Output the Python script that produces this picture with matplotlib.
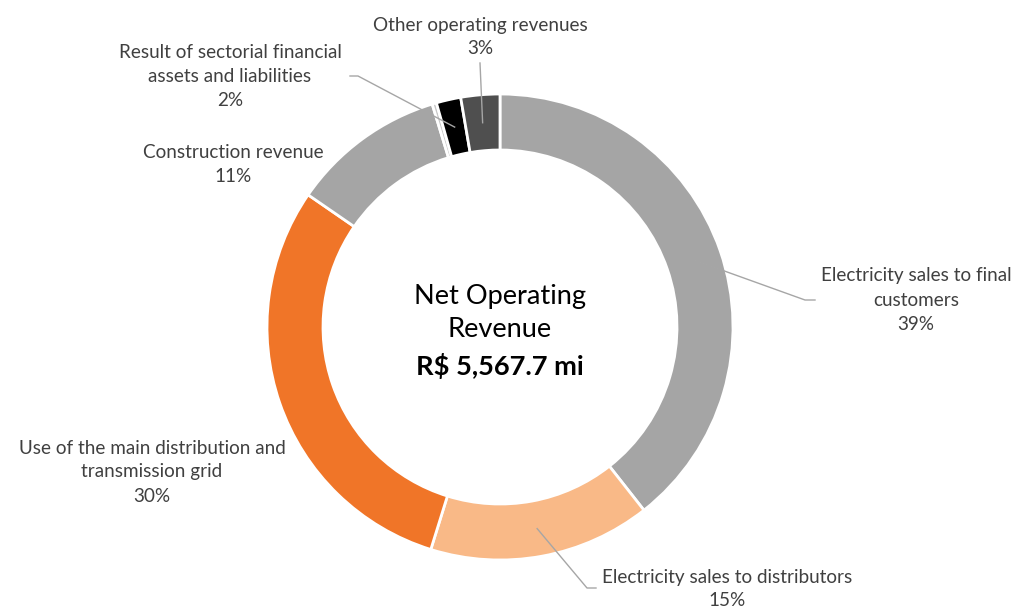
import numpy as np
import matplotlib.pyplot as plt

# dados da receita (em %), sentido horario a partir do topo
categorias = ['Electricity sales to final\ncustomers',
              'Electricity sales to distributors',
              'Use of the main distribution and\ntransmission grid',
              'Construction revenue',
              '',
              'Result of sectorial financial\nassets and liabilities',
              'Other operating revenues']
valores = [39.4, 15.4, 29.8, 10.7, 0.3, 1.7, 2.7]
cores = ['#a5a5a5', '#f9b987', '#f07528', '#a5a5a5', '#c8c8c8', '#000000', '#4f4f4f']

titulo = ['Net Operating', 'Revenue']
total = 'R$ 5,567.7 mi'

W, H = 1013, 607
cx, cy = 500, H - 327
R = 233
largura = 56

fig = plt.figure(figsize=(W/100, H/100), dpi=100)
ax = fig.add_axes([0, 0, 1, 1])
ax.set_xlim(0, W)
ax.set_ylim(0, H)
ax.set_aspect('equal')
ax.axis('off')

fonte = ['Lato', 'DejaVu Sans']

wedges, _ = ax.pie(valores, colors=cores, startangle=90, counterclock=False,
                   center=(cx, cy), radius=R, normalize=True,
                   wedgeprops=dict(width=largura, edgecolor='white', linewidth=2))
ax.set_xlim(0, W)
ax.set_ylim(0, H)

# posicoes dos rotulos (centro do bloco de texto) e pontos da linha guia
rotulos = {
    0: dict(xy=(916, 300), linha=[(805, 300), (815, 300)]),
    1: dict(xy=(727, 589), linha=[(587, 588), (596, 588)]),
    2: dict(xy=(152, 472), linha=None),
    3: dict(xy=(233, 164), linha=None),
    5: dict(xy=(230, 77), linha=[(358, 76), (350, 76)]),
    6: dict(xy=(480, 37), linha=[(480, 63)]),
}

r_meio = R - largura / 2
for i, info in rotulos.items():
    w = wedges[i]
    ang = np.deg2rad((w.theta1 + w.theta2) / 2)
    pct = round(valores[i] / sum(valores) * 100)
    texto = categorias[i] + '\n' + f'{pct}%'
    x, y = info['xy']
    ax.text(x, H - y, texto, ha='center', va='center', fontsize=13.6,
            color='#404040', family=fonte, linespacing=1.5)
    if info['linha'] is not None:
        px = [cx + r_meio * np.cos(ang)] + [p[0] for p in info['linha']]
        py = [cy + r_meio * np.sin(ang)] + [H - p[1] for p in info['linha']]
        ax.plot(px, py, color='#a6a6a6', linewidth=1)

ax.text(cx, H - 313, '\n'.join(titulo), ha='center', va='center', fontsize=19.6,
        color='black', family=fonte, linespacing=1.38)
ax.text(cx, H - 366, total, ha='center', va='center', fontsize=19.6,
        color='black', family=fonte, fontweight='bold')

fig.savefig('out.png', dpi=100)
